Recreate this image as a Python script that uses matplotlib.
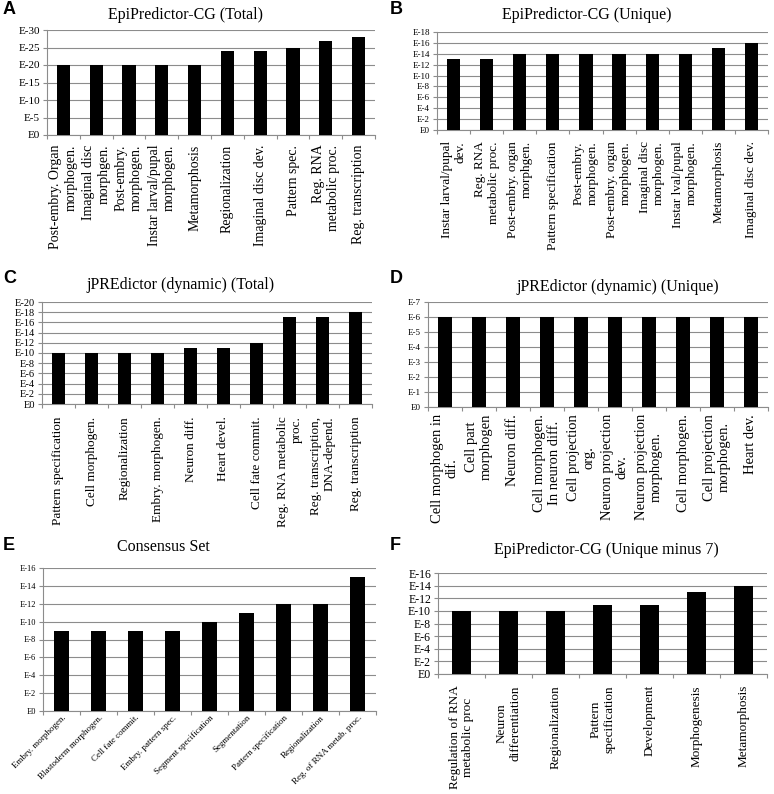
import numpy as np
import matplotlib
matplotlib.use("Agg")
import matplotlib.pyplot as plt

plt.rcParams['font.family'] = ['Liberation Serif', 'DejaVu Serif']

# ---- data (exponents) ----
a_labels = ["Post-embry. Organ\nmorphogen.", "Imaginal disc\nmorphgen.", "Post-embry.\nmorphogen.",
            "Instar larval/pupal\nmorphogen.", "Metamorphosis", "Regionalization",
            "Imaginal disc dev.", "Pattern spec.", "Reg. RNA\nmetabolic proc.", "Reg. transcription"]
a_values = [20, 20, 20, 20, 20, 24, 24, 25, 27, 28]

b_labels = ["Instar larval/pupal\ndev.", "Reg. RNA\nmetabolic proc.", "Post-embry. organ\nmorphgen.",
            "Pattern specification", "Post-embry.\nmorphogen.", "Post-embry. organ\nmorphogen.",
            "Imaginal disc\nmorphogen.", "Instar lval/pupal\nmorphogen.", "Metamorphosis",
            "Imaginal disc dev."]
b_values = [13, 13, 14, 14, 14, 14, 14, 14, 15, 16]

c_labels = ["Pattern specification", "Cell morphogen.", "Regionalization", "Embry. morphogen.",
            "Neuron diff.", "Heart devel.", "Cell fate commit.", "Reg. RNA metabolic\nproc.",
            "Reg. transcription,\nDNA-depend.", "Reg. transcription"]
c_values = [10, 10, 10, 10, 11, 11, 12, 17, 17, 18]

d_labels = ["Cell morphogen in\ndif.", "Cell part\nmorphogen", "Neuron diff.",
            "Cell morphogen.\nIn neuron diff.", "Cell projection\norg.", "Neuron projection\ndev.",
            "Neuron projection\nmorphogen.", "Cell morphogen.", "Cell projection\nmorphogen.",
            "Heart dev."]
d_values = [6, 6, 6, 6, 6, 6, 6, 6, 6, 6]

e_labels = ["Embry. morphogen.", "Blastoderm morphogen.", "Cell fate commit.",
            "Embry. pattern spec.", "Segment specification", "Segmentation",
            "Pattern specification", "Regionalization", "Reg. of RNA metab. proc."]
e_values = [9, 9, 9, 9, 10, 11, 12, 12, 15]

f_labels = ["Regulation of RNA\nmetabolic proc", "Neuron\ndifferentiation", "Regionalization",
            "Pattern\nspecification", "Development", "Morphogenesis", "Metamorphosis"]
f_values = [10, 10, 10, 11, 11, 13, 14]

W, H = 774, 794
fig = plt.figure(figsize=(W / 100, H / 100), dpi=100)


def px_axes(l, r, t, b):
    return fig.add_axes([l / W, 1 - b / H, (r - l) / W, (b - t) / H])


def panel(box, labels, values, ymax, step, title, tpos, letter, lpos,
          ytick_fs=7.5, lab_fs=9, rot=90, malign='right', lab_pad=6):
    ax = px_axes(*box)
    x = np.arange(len(values))
    ax.bar(x, values, width=0.4, color='black', zorder=3)
    ax.set_xlim(-0.5, len(values) - 0.5)
    ax.set_ylim(0, ymax)
    ticks = np.arange(0, ymax + 0.1, step)
    ax.set_yticks(ticks)
    ax.set_yticklabels(["E0" if t == 0 else "E-%d" % t for t in ticks], fontsize=ytick_fs)
    ax.yaxis.grid(True, color='#8c8c8c', linewidth=0.8, zorder=0)
    for s in ['top', 'right']:
        ax.spines[s].set_visible(False)
    for s in ['left', 'bottom']:
        ax.spines[s].set_color('#8c8c8c')
        ax.spines[s].set_linewidth(0.8)
    ax.tick_params(axis='y', colors='#8c8c8c', length=3, width=0.8, pad=2, labelcolor='black')
    ax.set_xticks(x)
    ax.set_xticks(np.arange(-0.5, len(values), 1.0), minor=True)
    ax.tick_params(axis='x', which='major', length=0)
    ax.tick_params(axis='x', which='minor', length=3, color='#8c8c8c', width=0.8)
    if rot == 90:
        ax.set_xticklabels(labels, rotation=90, fontsize=lab_fs, va='top', ha='center',
                           multialignment=malign)
    else:
        ax.set_xticklabels(labels, rotation=rot, fontsize=lab_fs, ha='right', va='top',
                           rotation_mode='anchor')
    ax.tick_params(axis='x', which='major', pad=lab_pad)
    fig.text(tpos[0] / W, 1 - tpos[1] / H, title, fontsize=11.5, ha='center', va='center')
    fig.text(lpos[0] / W, 1 - lpos[1] / H, letter, fontsize=13, fontweight='bold',
             family='Liberation Sans', ha='left', va='center')
    return ax


panel((47, 375, 30, 135), a_labels, a_values, 30, 5, "EpiPredictor-CG (Total)", (185, 15), "A", (3, 10),
      ytick_fs=8, lab_fs=10, lab_pad=7)
panel((437, 768, 32, 130), b_labels, b_values, 18, 2, "EpiPredictor-CG (Unique)", (587, 15), "B", (390, 10),
      ytick_fs=6.5, lab_fs=9.5, lab_pad=8)
panel((42, 372, 302, 404), c_labels, c_values, 20, 2, "jPREdictor (dynamic) (Total)", (181, 285), "C", (3, 278),
      ytick_fs=7.5, lab_fs=9.5, lab_pad=9)
panel((428, 768, 302, 407), d_labels, d_values, 7, 1, "jPREdictor (dynamic) (Unique)", (618, 287), "D", (390, 278),
      ytick_fs=6.5, lab_fs=10.5, malign='center', lab_pad=5)
panel((43, 376, 568, 711), e_labels, e_values, 16, 2, "Consensus Set", (163, 547), "E", (3, 545),
      ytick_fs=6, lab_fs=6.5, rot=45, lab_pad=2)
panel((438, 767, 573, 674), f_labels, f_values, 16, 2, "EpiPredictor-CG (Unique minus 7)", (606, 550), "F", (390, 545),
      ytick_fs=8.5, lab_fs=9.5, malign='center', lab_pad=8)

fig.savefig("out.png", dpi=100)
